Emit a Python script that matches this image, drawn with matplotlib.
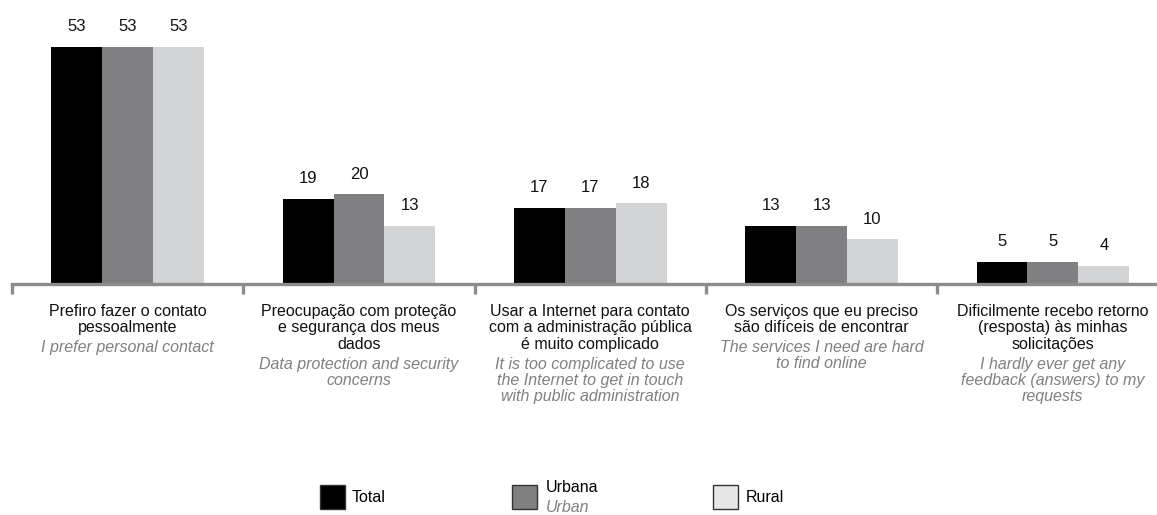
import numpy as np
import matplotlib
matplotlib.use("Agg")
import matplotlib.pyplot as plt
from matplotlib.patches import Rectangle

plt.rcParams['font.family'] = ['Liberation Sans', 'DejaVu Sans']

# Dados
categorias_pt = [
    "Prefiro fazer o contato\npessoalmente",
    "Preocupação com proteção\ne segurança dos meus\ndados",
    "Usar a Internet para contato\ncom a administração pública\né muito complicado",
    "Os serviços que eu preciso\nsão difíceis de encontrar",
    "Dificilmente recebo retorno\n(resposta) às minhas\nsolicitações",
]
categorias_en = [
    "I prefer personal contact",
    "Data protection and security\nconcerns",
    "It is too complicated to use\nthe Internet to get in touch\nwith public administration",
    "The services I need are hard\nto find online",
    "I hardly ever get any\nfeedback (answers) to my\nrequests",
]
total = [53, 19, 17, 13, 5]
urbana = [53, 20, 17, 13, 5]
rural = [53, 13, 18, 10, 4]

series = [("Total", total, "#000000"),
          ("Urbana", urbana, "#808083"),
          ("Rural", rural, "#d3d4d6")]

fig = plt.figure(figsize=(11.57, 5.15), dpi=100)
ax = fig.add_axes([12 / 1157, 0.4485, 1 - 12 / 1157, 0.522])

x = np.arange(len(total))
w = 0.22
for i, (nome, vals, cor) in enumerate(series):
    pos = x + (i - 1) * w
    ax.bar(pos, vals, width=w, color=cor, zorder=2)
    for px, v in zip(pos, vals):
        ax.annotate(str(v), (px, v), xytext=(0, 14.5), textcoords='offset points',
                    ha='center', va='center', fontsize=12, color='#111111')

ax.set_xlim(-0.5, 4.45)
ax.set_ylim(0, 60)
for s in ['top', 'right', 'left']:
    ax.spines[s].set_visible(False)
ax.spines['bottom'].set_color('#8c8c8c')
ax.spines['bottom'].set_linewidth(2.4)
ax.spines['bottom'].set_zorder(3)
ax.set_yticks([])
ax.set_xticks(np.arange(len(total)) - 0.5)
ax.set_xticklabels([])
ax.tick_params(axis='x', length=7, width=2.4, color='#8c8c8c')

# Rótulos das categorias
fs = 11.5
lh = 11.9  # altura de linha em pontos (~16.5 px)
for i in range(len(total)):
    n_pt = categorias_pt[i].count("\n") + 1
    ax.annotate(categorias_pt[i], (i, 0), xycoords='data', xytext=(0, -14.5),
                textcoords='offset points', ha='center', va='top',
                fontsize=fs, color='#111111', linespacing=1.11,
                annotation_clip=False)
    ax.annotate(categorias_en[i], (i, 0), xycoords='data',
                xytext=(0, -14.5 - n_pt * lh - 2), textcoords='offset points',
                ha='center', va='top', fontsize=fs, color='#808080',
                style='italic', linespacing=1.11, annotation_clip=False)

# Legenda
def quadrado(x0, cor):
    fig.patches.append(Rectangle((x0 / 1157, 1 - 509 / 515), 25 / 1157, 24 / 515,
                                 transform=fig.transFigure, facecolor=cor,
                                 edgecolor='#333333', linewidth=1))

quadrado(320, "#000000")
fig.text(352 / 1157, 1 - 497 / 515, "Total", ha='left', va='center', fontsize=11.5)
quadrado(512, "#808083")
fig.text(546 / 1157, 1 - 488 / 515, "Urbana", ha='left', va='center', fontsize=11.5)
fig.text(546 / 1157, 1 - 508 / 515, "Urban", ha='left', va='center', fontsize=11.5,
         style='italic', color='#808080')
quadrado(713, "#e6e6e6")
fig.text(746 / 1157, 1 - 497 / 515, "Rural", ha='left', va='center', fontsize=11.5)

fig.savefig("out.png", dpi=100)
